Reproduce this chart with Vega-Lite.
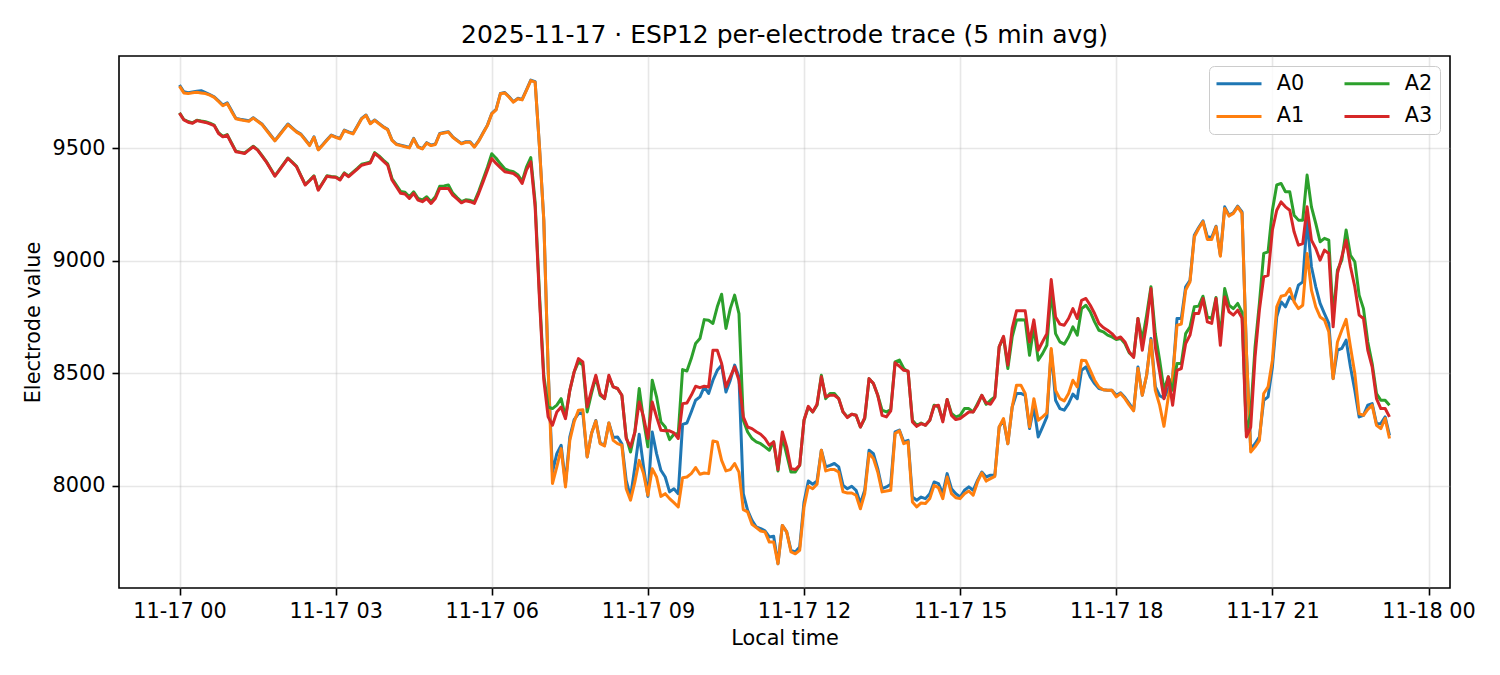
{
  "$schema": "https://vega.github.io/schema/vega-lite/v6.json",
  "width": 1331,
  "height": 532,
  "autosize": "none",
  "padding": {"left": 119, "top": 56, "right": 50, "bottom": 87},
  "background": "white",
  "config": {
    "font": "DejaVu Sans",
    "view": {"stroke": "black", "strokeWidth": 1.6},
    "axis": {
      "domain": false,
      "tickColor": "black",
      "tickSize": 7,
      "tickWidth": 1.6,
      "labelFontSize": 20.8,
      "labelColor": "black",
      "titleFontSize": 20.8,
      "titleFontWeight": "normal",
      "titleColor": "black",
      "grid": true,
      "gridColor": "#b0b0b0",
      "gridOpacity": 0.3,
      "gridWidth": 1.6,
      "labelFlush": false,
      "labelOverlap": false
    },
    "title": {"fontSize": 25, "fontWeight": "normal", "color": "black", "anchor": "middle", "offset": 8}
  },
  "title": "2025-11-17 · ESP12 per-electrode trace (5 min avg)",
  "data": {
    "format": {"parse": {"t": "date:'%Y-%m-%d %H:%M'"}},
    "values": [
      {"t":"2025-11-17 00:00","A0":9780,"A1":9775,"A2":9657,"A3":9655},
      {"t":"2025-11-17 00:05","A0":9750,"A1":9745,"A2":9627,"A3":9625},
      {"t":"2025-11-17 00:10","A0":9746,"A1":9742,"A2":9618,"A3":9615},
      {"t":"2025-11-17 00:15","A0":9749,"A1":9746,"A2":9612,"A3":9610},
      {"t":"2025-11-17 00:20","A0":9752,"A1":9748,"A2":9624,"A3":9622},
      {"t":"2025-11-17 00:25","A0":9755,"A1":9745,"A2":9620,"A3":9618},
      {"t":"2025-11-17 00:30","A0":9746,"A1":9742,"A2":9617,"A3":9614},
      {"t":"2025-11-17 00:35","A0":9737,"A1":9735,"A2":9611,"A3":9608},
      {"t":"2025-11-17 00:40","A0":9728,"A1":9725,"A2":9602,"A3":9600},
      {"t":"2025-11-17 00:45","A0":9710,"A1":9707,"A2":9568,"A3":9565},
      {"t":"2025-11-17 00:50","A0":9691,"A1":9688,"A2":9552,"A3":9550},
      {"t":"2025-11-17 00:55","A0":9701,"A1":9698,"A2":9560,"A3":9558},
      {"t":"2025-11-17 01:00","A0":9667,"A1":9663,"A2":9523,"A3":9520},
      {"t":"2025-11-17 01:05","A0":9632,"A1":9630,"A2":9486,"A3":9484},
      {"t":"2025-11-17 01:10","A0":9628,"A1":9626,"A2":9482,"A3":9480},
      {"t":"2025-11-17 01:15","A0":9625,"A1":9622,"A2":9478,"A3":9476},
      {"t":"2025-11-17 01:20","A0":9621,"A1":9619,"A2":9493,"A3":9491},
      {"t":"2025-11-17 01:25","A0":9635,"A1":9633,"A2":9508,"A3":9506},
      {"t":"2025-11-17 01:30","A0":9621,"A1":9619,"A2":9493,"A3":9491},
      {"t":"2025-11-17 01:35","A0":9607,"A1":9605,"A2":9467,"A3":9465},
      {"t":"2025-11-17 01:40","A0":9583,"A1":9580,"A2":9441,"A3":9439},
      {"t":"2025-11-17 01:45","A0":9558,"A1":9556,"A2":9409,"A3":9407},
      {"t":"2025-11-17 01:50","A0":9533,"A1":9532,"A2":9377,"A3":9375},
      {"t":"2025-11-17 01:55","A0":9558,"A1":9556,"A2":9403,"A3":9401},
      {"t":"2025-11-17 02:00","A0":9583,"A1":9580,"A2":9430,"A3":9428},
      {"t":"2025-11-17 02:05","A0":9607,"A1":9604,"A2":9456,"A3":9454},
      {"t":"2025-11-17 02:10","A0":9590,"A1":9588,"A2":9438,"A3":9436},
      {"t":"2025-11-17 02:15","A0":9573,"A1":9571,"A2":9419,"A3":9417},
      {"t":"2025-11-17 02:20","A0":9562,"A1":9560,"A2":9378,"A3":9376},
      {"t":"2025-11-17 02:25","A0":9538,"A1":9535,"A2":9338,"A3":9336},
      {"t":"2025-11-17 02:30","A0":9513,"A1":9511,"A2":9357,"A3":9355},
      {"t":"2025-11-17 02:35","A0":9550,"A1":9548,"A2":9377,"A3":9375},
      {"t":"2025-11-17 02:40","A0":9494,"A1":9492,"A2":9316,"A3":9313},
      {"t":"2025-11-17 02:45","A0":9515,"A1":9513,"A2":9346,"A3":9344},
      {"t":"2025-11-17 02:50","A0":9537,"A1":9535,"A2":9377,"A3":9375},
      {"t":"2025-11-17 02:55","A0":9558,"A1":9556,"A2":9374,"A3":9372},
      {"t":"2025-11-17 03:00","A0":9550,"A1":9548,"A2":9372,"A3":9370},
      {"t":"2025-11-17 03:05","A0":9543,"A1":9541,"A2":9361,"A3":9358},
      {"t":"2025-11-17 03:10","A0":9580,"A1":9578,"A2":9390,"A3":9387},
      {"t":"2025-11-17 03:15","A0":9572,"A1":9570,"A2":9376,"A3":9373},
      {"t":"2025-11-17 03:20","A0":9565,"A1":9563,"A2":9393,"A3":9390},
      {"t":"2025-11-17 03:25","A0":9598,"A1":9596,"A2":9410,"A3":9407},
      {"t":"2025-11-17 03:30","A0":9632,"A1":9630,"A2":9428,"A3":9424},
      {"t":"2025-11-17 03:35","A0":9647,"A1":9645,"A2":9433,"A3":9429},
      {"t":"2025-11-17 03:40","A0":9610,"A1":9608,"A2":9438,"A3":9434},
      {"t":"2025-11-17 03:45","A0":9625,"A1":9623,"A2":9480,"A3":9476},
      {"t":"2025-11-17 03:50","A0":9610,"A1":9608,"A2":9465,"A3":9461},
      {"t":"2025-11-17 03:55","A0":9595,"A1":9593,"A2":9447,"A3":9442},
      {"t":"2025-11-17 04:00","A0":9583,"A1":9581,"A2":9430,"A3":9424},
      {"t":"2025-11-17 04:05","A0":9536,"A1":9534,"A2":9365,"A3":9358},
      {"t":"2025-11-17 04:10","A0":9518,"A1":9516,"A2":9336,"A3":9328},
      {"t":"2025-11-17 04:15","A0":9513,"A1":9511,"A2":9307,"A3":9299},
      {"t":"2025-11-17 04:20","A0":9508,"A1":9506,"A2":9304,"A3":9296},
      {"t":"2025-11-17 04:25","A0":9503,"A1":9501,"A2":9284,"A3":9276},
      {"t":"2025-11-17 04:30","A0":9543,"A1":9541,"A2":9306,"A3":9299},
      {"t":"2025-11-17 04:35","A0":9506,"A1":9504,"A2":9277,"A3":9269},
      {"t":"2025-11-17 04:40","A0":9498,"A1":9496,"A2":9270,"A3":9262},
      {"t":"2025-11-17 04:45","A0":9524,"A1":9522,"A2":9284,"A3":9276},
      {"t":"2025-11-17 04:50","A0":9513,"A1":9511,"A2":9262,"A3":9254},
      {"t":"2025-11-17 04:55","A0":9518,"A1":9516,"A2":9284,"A3":9276},
      {"t":"2025-11-17 05:00","A0":9565,"A1":9563,"A2":9330,"A3":9321},
      {"t":"2025-11-17 05:05","A0":9569,"A1":9567,"A2":9332,"A3":9321},
      {"t":"2025-11-17 05:10","A0":9573,"A1":9571,"A2":9336,"A3":9321},
      {"t":"2025-11-17 05:15","A0":9550,"A1":9548,"A2":9300,"A3":9291},
      {"t":"2025-11-17 05:20","A0":9535,"A1":9533,"A2":9280,"A3":9274},
      {"t":"2025-11-17 05:25","A0":9521,"A1":9519,"A2":9262,"A3":9257},
      {"t":"2025-11-17 05:30","A0":9528,"A1":9526,"A2":9270,"A3":9266},
      {"t":"2025-11-17 05:35","A0":9528,"A1":9526,"A2":9268,"A3":9262},
      {"t":"2025-11-17 05:40","A0":9506,"A1":9504,"A2":9262,"A3":9254},
      {"t":"2025-11-17 05:45","A0":9533,"A1":9531,"A2":9308,"A3":9299},
      {"t":"2025-11-17 05:50","A0":9568,"A1":9566,"A2":9362,"A3":9350},
      {"t":"2025-11-17 05:55","A0":9602,"A1":9600,"A2":9415,"A3":9402},
      {"t":"2025-11-17 06:00","A0":9654,"A1":9652,"A2":9475,"A3":9454},
      {"t":"2025-11-17 06:05","A0":9672,"A1":9670,"A2":9455,"A3":9432},
      {"t":"2025-11-17 06:10","A0":9743,"A1":9741,"A2":9430,"A3":9413},
      {"t":"2025-11-17 06:15","A0":9747,"A1":9745,"A2":9408,"A3":9395},
      {"t":"2025-11-17 06:20","A0":9728,"A1":9726,"A2":9400,"A3":9391},
      {"t":"2025-11-17 06:25","A0":9706,"A1":9704,"A2":9395,"A3":9387},
      {"t":"2025-11-17 06:30","A0":9721,"A1":9719,"A2":9382,"A3":9373},
      {"t":"2025-11-17 06:35","A0":9716,"A1":9714,"A2":9352,"A3":9343},
      {"t":"2025-11-17 06:40","A0":9758,"A1":9756,"A2":9415,"A3":9402},
      {"t":"2025-11-17 06:45","A0":9802,"A1":9800,"A2":9458,"A3":9439},
      {"t":"2025-11-17 06:50","A0":9795,"A1":9793,"A2":9260,"A3":9240},
      {"t":"2025-11-17 06:55","A0":9506,"A1":9506,"A2":8850,"A3":8830},
      {"t":"2025-11-17 07:00","A0":9180,"A1":9180,"A2":8490,"A3":8470},
      {"t":"2025-11-17 07:05","A0":8520,"A1":8520,"A2":8350,"A3":8306},
      {"t":"2025-11-17 07:10","A0":8060,"A1":8010,"A2":8343,"A3":8269},
      {"t":"2025-11-17 07:15","A0":8143,"A1":8084,"A2":8358,"A3":8328},
      {"t":"2025-11-17 07:20","A0":8180,"A1":8165,"A2":8387,"A3":8350},
      {"t":"2025-11-17 07:25","A0":8010,"A1":7995,"A2":8306,"A3":8298},
      {"t":"2025-11-17 07:30","A0":8217,"A1":8202,"A2":8424,"A3":8424},
      {"t":"2025-11-17 07:35","A0":8294,"A1":8284,"A2":8506,"A3":8506},
      {"t":"2025-11-17 07:40","A0":8321,"A1":8336,"A2":8550,"A3":8565},
      {"t":"2025-11-17 07:45","A0":8324,"A1":8338,"A2":8536,"A3":8550},
      {"t":"2025-11-17 07:50","A0":8128,"A1":8128,"A2":8328,"A3":8350},
      {"t":"2025-11-17 07:55","A0":8232,"A1":8232,"A2":8410,"A3":8424},
      {"t":"2025-11-17 08:00","A0":8290,"A1":8288,"A2":8484,"A3":8491},
      {"t":"2025-11-17 08:05","A0":8190,"A1":8187,"A2":8402,"A3":8410},
      {"t":"2025-11-17 08:10","A0":8180,"A1":8177,"A2":8387,"A3":8387},
      {"t":"2025-11-17 08:15","A0":8279,"A1":8279,"A2":8484,"A3":8491},
      {"t":"2025-11-17 08:20","A0":8215,"A1":8202,"A2":8439,"A3":8439},
      {"t":"2025-11-17 08:25","A0":8217,"A1":8187,"A2":8432,"A3":8432},
      {"t":"2025-11-17 08:30","A0":8187,"A1":8180,"A2":8402,"A3":8402},
      {"t":"2025-11-17 08:35","A0":8024,"A1":7987,"A2":8217,"A3":8210},
      {"t":"2025-11-17 08:40","A0":7950,"A1":7936,"A2":8150,"A3":8173},
      {"t":"2025-11-17 08:45","A0":8084,"A1":8017,"A2":8239,"A3":8239},
      {"t":"2025-11-17 08:50","A0":8229,"A1":8113,"A2":8432,"A3":8372},
      {"t":"2025-11-17 08:55","A0":8084,"A1":8054,"A2":8291,"A3":8306},
      {"t":"2025-11-17 09:00","A0":7953,"A1":7958,"A2":8173,"A3":8210},
      {"t":"2025-11-17 09:05","A0":8239,"A1":8076,"A2":8469,"A3":8372},
      {"t":"2025-11-17 09:10","A0":8143,"A1":8039,"A2":8395,"A3":8306},
      {"t":"2025-11-17 09:15","A0":8069,"A1":7953,"A2":8284,"A3":8247},
      {"t":"2025-11-17 09:20","A0":8039,"A1":7965,"A2":8261,"A3":8244},
      {"t":"2025-11-17 09:25","A0":7973,"A1":7943,"A2":8205,"A3":8244},
      {"t":"2025-11-17 09:30","A0":7987,"A1":7925,"A2":8229,"A3":8235},
      {"t":"2025-11-17 09:35","A0":7965,"A1":7906,"A2":8232,"A3":8210},
      {"t":"2025-11-17 09:40","A0":8273,"A1":8036,"A2":8516,"A3":8365},
      {"t":"2025-11-17 09:45","A0":8279,"A1":8039,"A2":8510,"A3":8368},
      {"t":"2025-11-17 09:50","A0":8328,"A1":8054,"A2":8565,"A3":8402},
      {"t":"2025-11-17 09:55","A0":8380,"A1":8081,"A2":8632,"A3":8442},
      {"t":"2025-11-17 10:00","A0":8395,"A1":8051,"A2":8654,"A3":8436},
      {"t":"2025-11-17 10:05","A0":8439,"A1":8057,"A2":8738,"A3":8442},
      {"t":"2025-11-17 10:10","A0":8410,"A1":8054,"A2":8735,"A3":8439},
      {"t":"2025-11-17 10:15","A0":8469,"A1":8199,"A2":8721,"A3":8602},
      {"t":"2025-11-17 10:20","A0":8513,"A1":8195,"A2":8795,"A3":8602},
      {"t":"2025-11-17 10:25","A0":8536,"A1":8113,"A2":8851,"A3":8543},
      {"t":"2025-11-17 10:30","A0":8417,"A1":8066,"A2":8699,"A3":8439},
      {"t":"2025-11-17 10:35","A0":8469,"A1":8072,"A2":8787,"A3":8484},
      {"t":"2025-11-17 10:40","A0":8536,"A1":8099,"A2":8847,"A3":8528},
      {"t":"2025-11-17 10:45","A0":8484,"A1":8061,"A2":8765,"A3":8469},
      {"t":"2025-11-17 10:50","A0":7965,"A1":7894,"A2":8291,"A3":8306},
      {"t":"2025-11-17 10:55","A0":7891,"A1":7884,"A2":8239,"A3":8261},
      {"t":"2025-11-17 11:00","A0":7847,"A1":7829,"A2":8210,"A3":8254},
      {"t":"2025-11-17 11:05","A0":7817,"A1":7814,"A2":8195,"A3":8240},
      {"t":"2025-11-17 11:10","A0":7810,"A1":7799,"A2":8187,"A3":8229},
      {"t":"2025-11-17 11:15","A0":7800,"A1":7795,"A2":8173,"A3":8210},
      {"t":"2025-11-17 11:20","A0":7773,"A1":7750,"A2":8158,"A3":8180},
      {"t":"2025-11-17 11:25","A0":7776,"A1":7750,"A2":8195,"A3":8195},
      {"t":"2025-11-17 11:30","A0":7654,"A1":7654,"A2":8066,"A3":8072},
      {"t":"2025-11-17 11:35","A0":7824,"A1":7824,"A2":8217,"A3":8239},
      {"t":"2025-11-17 11:40","A0":7795,"A1":7795,"A2":8140,"A3":8173},
      {"t":"2025-11-17 11:45","A0":7713,"A1":7706,"A2":8061,"A3":8076},
      {"t":"2025-11-17 11:50","A0":7706,"A1":7698,"A2":8061,"A3":8072},
      {"t":"2025-11-17 11:55","A0":7728,"A1":7713,"A2":8091,"A3":8091},
      {"t":"2025-11-17 12:00","A0":7928,"A1":7906,"A2":8291,"A3":8291},
      {"t":"2025-11-17 12:05","A0":8021,"A1":7998,"A2":8350,"A3":8353},
      {"t":"2025-11-17 12:10","A0":8007,"A1":7987,"A2":8328,"A3":8328},
      {"t":"2025-11-17 12:15","A0":8021,"A1":8007,"A2":8358,"A3":8362},
      {"t":"2025-11-17 12:20","A0":8158,"A1":8158,"A2":8491,"A3":8484},
      {"t":"2025-11-17 12:25","A0":8084,"A1":8066,"A2":8387,"A3":8395},
      {"t":"2025-11-17 12:30","A0":8091,"A1":8072,"A2":8410,"A3":8402},
      {"t":"2025-11-17 12:35","A0":8099,"A1":8072,"A2":8410,"A3":8402},
      {"t":"2025-11-17 12:40","A0":8084,"A1":8061,"A2":8387,"A3":8387},
      {"t":"2025-11-17 12:45","A0":8002,"A1":7973,"A2":8328,"A3":8328},
      {"t":"2025-11-17 12:50","A0":7987,"A1":7968,"A2":8306,"A3":8303},
      {"t":"2025-11-17 12:55","A0":7998,"A1":7968,"A2":8318,"A3":8318},
      {"t":"2025-11-17 13:00","A0":7980,"A1":7958,"A2":8313,"A3":8313},
      {"t":"2025-11-17 13:05","A0":7921,"A1":7898,"A2":8261,"A3":8261},
      {"t":"2025-11-17 13:10","A0":7980,"A1":7965,"A2":8299,"A3":8303},
      {"t":"2025-11-17 13:15","A0":8158,"A1":8143,"A2":8476,"A3":8476},
      {"t":"2025-11-17 13:20","A0":8143,"A1":8121,"A2":8454,"A3":8454},
      {"t":"2025-11-17 13:25","A0":8076,"A1":8061,"A2":8402,"A3":8402},
      {"t":"2025-11-17 13:30","A0":7987,"A1":7973,"A2":8336,"A3":8313},
      {"t":"2025-11-17 13:35","A0":7995,"A1":7977,"A2":8328,"A3":8306},
      {"t":"2025-11-17 13:40","A0":8007,"A1":7980,"A2":8339,"A3":8333},
      {"t":"2025-11-17 13:45","A0":8239,"A1":8232,"A2":8550,"A3":8546},
      {"t":"2025-11-17 13:50","A0":8247,"A1":8244,"A2":8558,"A3":8531},
      {"t":"2025-11-17 13:55","A0":8195,"A1":8187,"A2":8521,"A3":8513},
      {"t":"2025-11-17 14:00","A0":8202,"A1":8195,"A2":8506,"A3":8510},
      {"t":"2025-11-17 14:05","A0":7950,"A1":7928,"A2":8291,"A3":8284},
      {"t":"2025-11-17 14:10","A0":7936,"A1":7906,"A2":8269,"A3":8264},
      {"t":"2025-11-17 14:15","A0":7950,"A1":7924,"A2":8279,"A3":8276},
      {"t":"2025-11-17 14:20","A0":7943,"A1":7921,"A2":8269,"A3":8269},
      {"t":"2025-11-17 14:25","A0":7965,"A1":7943,"A2":8291,"A3":8291},
      {"t":"2025-11-17 14:30","A0":8017,"A1":8002,"A2":8358,"A3":8353},
      {"t":"2025-11-17 14:35","A0":8010,"A1":7992,"A2":8350,"A3":8358},
      {"t":"2025-11-17 14:40","A0":7965,"A1":7943,"A2":8291,"A3":8284},
      {"t":"2025-11-17 14:45","A0":8054,"A1":8039,"A2":8383,"A3":8383},
      {"t":"2025-11-17 14:50","A0":7987,"A1":7965,"A2":8321,"A3":8313},
      {"t":"2025-11-17 14:55","A0":7965,"A1":7947,"A2":8306,"A3":8294},
      {"t":"2025-11-17 15:00","A0":7950,"A1":7943,"A2":8313,"A3":8299},
      {"t":"2025-11-17 15:05","A0":7980,"A1":7965,"A2":8343,"A3":8313},
      {"t":"2025-11-17 15:10","A0":7995,"A1":7977,"A2":8343,"A3":8328},
      {"t":"2025-11-17 15:15","A0":7980,"A1":7958,"A2":8328,"A3":8328},
      {"t":"2025-11-17 15:20","A0":8024,"A1":8017,"A2":8365,"A3":8358},
      {"t":"2025-11-17 15:25","A0":8061,"A1":8057,"A2":8402,"A3":8402},
      {"t":"2025-11-17 15:30","A0":8039,"A1":8021,"A2":8362,"A3":8368},
      {"t":"2025-11-17 15:35","A0":8047,"A1":8032,"A2":8380,"A3":8362},
      {"t":"2025-11-17 15:40","A0":8047,"A1":8042,"A2":8395,"A3":8392},
      {"t":"2025-11-17 15:45","A0":8261,"A1":8261,"A2":8617,"A3":8617},
      {"t":"2025-11-17 15:50","A0":8291,"A1":8299,"A2":8661,"A3":8664},
      {"t":"2025-11-17 15:55","A0":8187,"A1":8187,"A2":8521,"A3":8536},
      {"t":"2025-11-17 16:00","A0":8350,"A1":8350,"A2":8661,"A3":8699},
      {"t":"2025-11-17 16:05","A0":8410,"A1":8447,"A2":8736,"A3":8777},
      {"t":"2025-11-17 16:10","A0":8410,"A1":8447,"A2":8738,"A3":8777},
      {"t":"2025-11-17 16:15","A0":8402,"A1":8410,"A2":8736,"A3":8777},
      {"t":"2025-11-17 16:20","A0":8254,"A1":8261,"A2":8580,"A3":8639},
      {"t":"2025-11-17 16:25","A0":8350,"A1":8387,"A2":8705,"A3":8737},
      {"t":"2025-11-17 16:30","A0":8217,"A1":8291,"A2":8558,"A3":8602},
      {"t":"2025-11-17 16:35","A0":8261,"A1":8306,"A2":8587,"A3":8640},
      {"t":"2025-11-17 16:40","A0":8306,"A1":8324,"A2":8624,"A3":8676},
      {"t":"2025-11-17 16:45","A0":8602,"A1":8610,"A2":8869,"A3":8916},
      {"t":"2025-11-17 16:50","A0":8380,"A1":8424,"A2":8676,"A3":8750},
      {"t":"2025-11-17 16:55","A0":8343,"A1":8387,"A2":8639,"A3":8718},
      {"t":"2025-11-17 17:00","A0":8336,"A1":8377,"A2":8629,"A3":8713},
      {"t":"2025-11-17 17:05","A0":8365,"A1":8410,"A2":8661,"A3":8743},
      {"t":"2025-11-17 17:10","A0":8407,"A1":8469,"A2":8706,"A3":8787},
      {"t":"2025-11-17 17:15","A0":8387,"A1":8439,"A2":8669,"A3":8743},
      {"t":"2025-11-17 17:20","A0":8513,"A1":8558,"A2":8787,"A3":8824},
      {"t":"2025-11-17 17:25","A0":8528,"A1":8555,"A2":8802,"A3":8832},
      {"t":"2025-11-17 17:30","A0":8484,"A1":8513,"A2":8773,"A3":8802},
      {"t":"2025-11-17 17:35","A0":8454,"A1":8469,"A2":8728,"A3":8765},
      {"t":"2025-11-17 17:40","A0":8432,"A1":8439,"A2":8691,"A3":8721},
      {"t":"2025-11-17 17:45","A0":8427,"A1":8427,"A2":8684,"A3":8703},
      {"t":"2025-11-17 17:50","A0":8424,"A1":8424,"A2":8669,"A3":8691},
      {"t":"2025-11-17 17:55","A0":8424,"A1":8424,"A2":8661,"A3":8676},
      {"t":"2025-11-17 18:00","A0":8402,"A1":8395,"A2":8650,"A3":8654},
      {"t":"2025-11-17 18:05","A0":8413,"A1":8410,"A2":8654,"A3":8661},
      {"t":"2025-11-17 18:10","A0":8392,"A1":8387,"A2":8632,"A3":8639},
      {"t":"2025-11-17 18:15","A0":8365,"A1":8358,"A2":8590,"A3":8595},
      {"t":"2025-11-17 18:20","A0":8336,"A1":8333,"A2":8573,"A3":8570},
      {"t":"2025-11-17 18:25","A0":8528,"A1":8521,"A2":8743,"A3":8743},
      {"t":"2025-11-17 18:30","A0":8402,"A1":8402,"A2":8647,"A3":8602},
      {"t":"2025-11-17 18:35","A0":8491,"A1":8491,"A2":8758,"A3":8721},
      {"t":"2025-11-17 18:40","A0":8654,"A1":8647,"A2":8884,"A3":8876},
      {"t":"2025-11-17 18:45","A0":8440,"A1":8424,"A2":8676,"A3":8617},
      {"t":"2025-11-17 18:50","A0":8400,"A1":8358,"A2":8558,"A3":8506},
      {"t":"2025-11-17 18:55","A0":8390,"A1":8264,"A2":8424,"A3":8387},
      {"t":"2025-11-17 19:00","A0":8430,"A1":8395,"A2":8484,"A3":8484},
      {"t":"2025-11-17 19:05","A0":8480,"A1":8484,"A2":8424,"A3":8358},
      {"t":"2025-11-17 19:10","A0":8743,"A1":8713,"A2":8543,"A3":8513},
      {"t":"2025-11-17 19:15","A0":8743,"A1":8718,"A2":8543,"A3":8521},
      {"t":"2025-11-17 19:20","A0":8884,"A1":8869,"A2":8676,"A3":8632},
      {"t":"2025-11-17 19:25","A0":8913,"A1":8906,"A2":8706,"A3":8669},
      {"t":"2025-11-17 19:30","A0":9113,"A1":9106,"A2":8795,"A3":8765},
      {"t":"2025-11-17 19:35","A0":9147,"A1":9143,"A2":8798,"A3":8765},
      {"t":"2025-11-17 19:40","A0":9177,"A1":9173,"A2":8842,"A3":8832},
      {"t":"2025-11-17 19:45","A0":9106,"A1":9094,"A2":8750,"A3":8728},
      {"t":"2025-11-17 19:50","A0":9103,"A1":9094,"A2":8743,"A3":8721},
      {"t":"2025-11-17 19:55","A0":9153,"A1":9150,"A2":8836,"A3":8832},
      {"t":"2025-11-17 20:00","A0":9024,"A1":9020,"A2":8661,"A3":8624},
      {"t":"2025-11-17 20:05","A0":9239,"A1":9232,"A2":8876,"A3":8839},
      {"t":"2025-11-17 20:10","A0":9202,"A1":9198,"A2":8802,"A3":8773},
      {"t":"2025-11-17 20:15","A0":9213,"A1":9210,"A2":8787,"A3":8758},
      {"t":"2025-11-17 20:20","A0":9242,"A1":9239,"A2":8810,"A3":8780},
      {"t":"2025-11-17 20:25","A0":9217,"A1":9210,"A2":8770,"A3":8745},
      {"t":"2025-11-17 20:30","A0":8600,"A1":8600,"A2":8240,"A3":8217},
      {"t":"2025-11-17 20:35","A0":8165,"A1":8150,"A2":8320,"A3":8261},
      {"t":"2025-11-17 20:40","A0":8187,"A1":8173,"A2":8617,"A3":8573},
      {"t":"2025-11-17 20:45","A0":8217,"A1":8202,"A2":8810,"A3":8780},
      {"t":"2025-11-17 20:50","A0":8380,"A1":8410,"A2":9032,"A3":8928},
      {"t":"2025-11-17 20:55","A0":8395,"A1":8439,"A2":9039,"A3":8935},
      {"t":"2025-11-17 21:00","A0":8528,"A1":8558,"A2":9224,"A3":9136},
      {"t":"2025-11-17 21:05","A0":8750,"A1":8795,"A2":9336,"A3":9224},
      {"t":"2025-11-17 21:10","A0":8817,"A1":8842,"A2":9343,"A3":9261},
      {"t":"2025-11-17 21:15","A0":8795,"A1":8847,"A2":9306,"A3":9239},
      {"t":"2025-11-17 21:20","A0":8839,"A1":8876,"A2":9306,"A3":9224},
      {"t":"2025-11-17 21:25","A0":8824,"A1":8817,"A2":9202,"A3":9128},
      {"t":"2025-11-17 21:30","A0":8891,"A1":8787,"A2":9180,"A3":9069},
      {"t":"2025-11-17 21:35","A0":8906,"A1":8802,"A2":9180,"A3":9076},
      {"t":"2025-11-17 21:40","A0":9180,"A1":9032,"A2":9380,"A3":9239},
      {"t":"2025-11-17 21:45","A0":8973,"A1":8869,"A2":9239,"A3":9091},
      {"t":"2025-11-17 21:50","A0":8884,"A1":8795,"A2":9165,"A3":9054},
      {"t":"2025-11-17 21:55","A0":8810,"A1":8750,"A2":9084,"A3":9002},
      {"t":"2025-11-17 22:00","A0":8765,"A1":8736,"A2":9099,"A3":9047},
      {"t":"2025-11-17 22:05","A0":8721,"A1":8684,"A2":9091,"A3":9032},
      {"t":"2025-11-17 22:10","A0":8476,"A1":8476,"A2":8750,"A3":8706},
      {"t":"2025-11-17 22:15","A0":8602,"A1":8639,"A2":8958,"A3":8943},
      {"t":"2025-11-17 22:20","A0":8610,"A1":8691,"A2":9002,"A3":9017},
      {"t":"2025-11-17 22:25","A0":8647,"A1":8739,"A2":9136,"A3":9091},
      {"t":"2025-11-17 22:30","A0":8528,"A1":8617,"A2":9024,"A3":8973},
      {"t":"2025-11-17 22:35","A0":8424,"A1":8499,"A2":8995,"A3":8884},
      {"t":"2025-11-17 22:40","A0":8306,"A1":8321,"A2":8847,"A3":8758},
      {"t":"2025-11-17 22:45","A0":8313,"A1":8313,"A2":8787,"A3":8743},
      {"t":"2025-11-17 22:50","A0":8358,"A1":8339,"A2":8639,"A3":8602},
      {"t":"2025-11-17 22:55","A0":8365,"A1":8358,"A2":8543,"A3":8528},
      {"t":"2025-11-17 23:00","A0":8276,"A1":8269,"A2":8410,"A3":8387},
      {"t":"2025-11-17 23:05","A0":8276,"A1":8254,"A2":8380,"A3":8343},
      {"t":"2025-11-17 23:10","A0":8306,"A1":8299,"A2":8380,"A3":8343},
      {"t":"2025-11-17 23:15","A0":8224,"A1":8210,"A2":8358,"A3":8306}
    ]
  },
  "transform": [{"fold": ["A0", "A1", "A2", "A3"], "as": ["ch", "val"]}],
  "mark": {"type": "line", "strokeWidth": 3, "strokeJoin": "round"},
  "encoding": {
    "x": {
      "field": "t",
      "type": "temporal",
      "title": "Local time",
      "scale": {
        "domain": [
          {"year": 2025, "month": 11, "date": 16, "hours": 22, "minutes": 50, "seconds": 15},
          {"year": 2025, "month": 11, "date": 18, "hours": 0, "minutes": 24, "seconds": 45}
        ]
      },
      "axis": {
        "format": "%m-%d %H",
        "labelPadding": 6,
        "titlePadding": 8,
        "values": [
          {"year": 2025, "month": 11, "date": 17, "hours": 0},
          {"year": 2025, "month": 11, "date": 17, "hours": 3},
          {"year": 2025, "month": 11, "date": 17, "hours": 6},
          {"year": 2025, "month": 11, "date": 17, "hours": 9},
          {"year": 2025, "month": 11, "date": 17, "hours": 12},
          {"year": 2025, "month": 11, "date": 17, "hours": 15},
          {"year": 2025, "month": 11, "date": 17, "hours": 18},
          {"year": 2025, "month": 11, "date": 17, "hours": 21},
          {"year": 2025, "month": 11, "date": 18, "hours": 0}
        ]
      }
    },
    "y": {
      "field": "val",
      "type": "quantitative",
      "title": "Electrode value",
      "scale": {"domain": [7546, 9909], "nice": false, "zero": false},
      "axis": {"values": [8000, 8500, 9000, 9500], "format": "d", "labelPadding": 7, "titlePadding": 9}
    },
    "color": {
      "field": "ch",
      "type": "nominal",
      "scale": {
        "domain": ["A0", "A1", "A2", "A3"],
        "range": ["#1f77b4", "#ff7f0e", "#2ca02c", "#d62728"]
      },
      "legend": {
        "title": null,
        "orient": "none",
        "legendX": 1090,
        "legendY": 10,
        "columns": 2,
        "columnPadding": 33,
        "rowPadding": 11,
        "padding": 7,
        "symbolType": "M-2.2,0H7.8",
        "symbolSize": 81,
        "symbolStrokeWidth": 3,
        "labelFontSize": 20.8,
        "labelColor": "black",
        "labelOffset": 40,
        "fillColor": "rgba(255,255,255,0.8)",
        "strokeColor": "#cccccc",
        "cornerRadius": 5
      }
    }
  }
}
